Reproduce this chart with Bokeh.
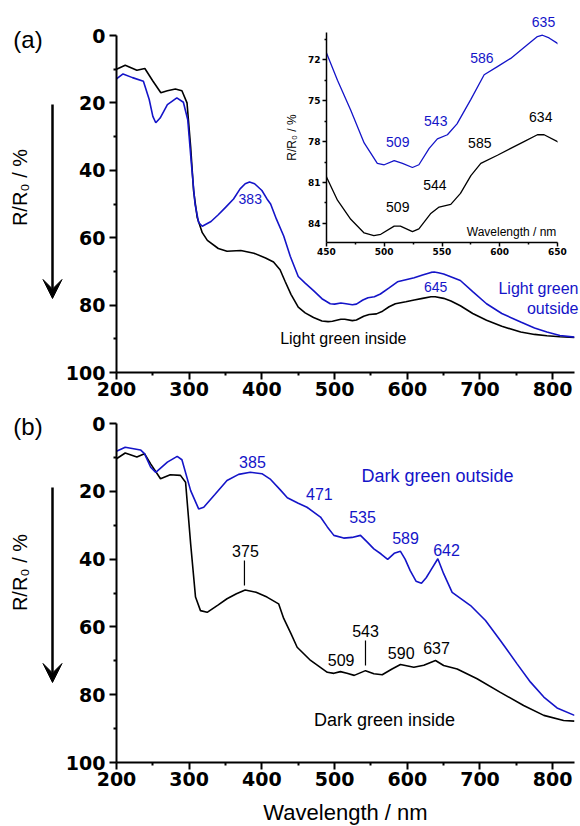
import math
from bokeh.plotting import figure
from bokeh.models import Range1d, FixedTicker, Label, Arrow, VeeHead, GridBox
from bokeh.embed import file_html
from bokeh.resources import INLINE

BLUE = "#1414c8"
BLACK = "#000000"

# ---------------- data ----------------
# Panel (a) - Light green inside (black)
wl_a_in = [200, 212, 228, 239, 250, 261, 270, 281, 290, 297, 302, 306, 311, 318, 325, 340, 352, 371, 389,
           405, 416, 425, 432, 440, 450, 459.5, 471, 482.6, 491, 497, 508.6, 514, 524.4, 530, 540, 547.5,
           557.6, 566, 575, 583.6, 598, 609.5, 621, 632.6, 638.4, 650, 660, 673, 690, 709, 730, 756, 775,
           792, 810, 830]
r_a_in = [10.0, 8.8, 10.3, 9.8, 13.5, 17.0, 16.4, 15.9, 16.4, 20.0, 33.0, 46.0, 54.0, 58.5, 60.8, 63.2, 64.0,
          63.8, 64.6, 66.0, 67.2, 69.5, 73.0, 76.8, 80.6, 82.3, 83.7, 84.7, 84.9, 84.8, 84.2, 84.2, 84.6, 84.4,
          83.3, 82.8, 82.6, 81.8, 80.5, 79.6, 79.0, 78.5, 78.0, 77.5, 77.5, 78.0, 78.8, 80.2, 82.5, 84.5,
          86.3, 88.0, 88.7, 89.1, 89.4, 89.6]

# Panel (a) - Light green outside (blue)
wl_a_out = [200, 209, 222, 237, 245, 250, 254, 260, 270, 283, 292, 298, 303, 308, 313, 318, 330, 340, 350,
            361, 370, 377, 383, 390, 400, 407, 412, 420, 430, 439, 450, 459.5, 471, 482.6, 494, 500, 508.6,
            515.8, 524.4, 530, 538.9, 546, 554.7, 563, 575, 586.5, 598, 609.5, 621, 632.6, 637, 642.7, 650,
            673, 690, 709, 730, 756, 775, 792, 810, 830]
r_a_out = [12.9, 11.4, 12.5, 13.6, 19.0, 24.0, 25.9, 24.5, 20.5, 18.5, 19.8, 25.0, 38.0, 50.0, 55.5, 56.6,
           55.2, 53.2, 51.0, 48.5, 45.5, 44.0, 43.5, 44.0, 46.0, 48.5, 50.0, 54.5, 59.5, 65.5, 71.5, 73.5,
           75.7, 78.1, 79.6, 79.7, 79.4, 79.6, 79.9, 79.7, 78.5, 77.8, 77.5, 76.7, 74.9, 73.1, 72.5, 71.9,
           71.1, 70.3, 70.2, 70.4, 70.8, 72.7, 76.0, 79.6, 82.5, 85.0, 86.8, 88.0, 89.0, 89.5]

# Panel (b) - Dark green inside (black)
wl_b_in = [200, 212, 228, 238.5, 247, 260.5, 274, 288, 295, 302, 308.7, 315.5, 324.7, 340, 352, 365, 377,
           392, 407, 423, 430, 440, 448.5, 467, 490, 499, 508, 517, 527, 542.5, 554, 565.5, 579, 590.6, 609,
           622.7, 638.8, 650, 668.6, 696, 728, 760, 787.8, 815, 830]
r_b_in = [10.4, 8.7, 9.9, 8.9, 11.9, 16.3, 15.1, 15.3, 17.3, 35.5, 51.2, 55.2, 55.7, 53.5, 51.7, 50.2, 49.1,
          49.8, 51.2, 53.2, 57.5, 62.0, 66.0, 69.9, 73.4, 73.7, 73.2, 73.7, 74.3, 72.9, 73.8, 74.1, 72.4,
          71.1, 71.9, 71.3, 69.9, 71.4, 72.4, 75.3, 79.3, 83.2, 86.1, 87.6, 87.8]

# Panel (b) - Dark green outside (blue)
wl_b_out = [200, 212, 233, 238.5, 247, 254, 270, 283.5, 290, 302, 313, 320, 335, 352, 368, 384, 400, 412,
            425, 435, 450, 462, 480.6, 490, 499, 512.5, 524, 535.6, 545, 554, 564, 573, 582, 590.6, 597, 604,
            612, 619.5, 626, 632, 642, 650, 661.7, 687, 707.6, 728, 751, 769.5, 787.8, 806, 830]
r_b_out = [8.2, 7.0, 7.8, 8.9, 12.9, 14.4, 11.4, 9.7, 10.7, 19.8, 25.2, 24.7, 21.0, 16.8, 15.0, 14.4, 14.8,
           16.5, 19.5, 21.9, 23.5, 24.7, 27.6, 30.5, 33.0, 33.8, 33.6, 33.0, 35.0, 37.0, 38.5, 40.1, 38.3,
           37.7, 40.0, 43.4, 46.5, 47.1, 45.5, 43.4, 39.9, 44.3, 49.8, 53.7, 58.1, 64.0, 70.9, 76.3, 80.7,
           83.9, 86.1]

# ticks
x_ticks = [200, 300, 400, 500, 600, 700, 800]
x_minor = [250, 350, 450, 550, 650, 750]
y_ticks = [0, 20, 40, 60, 80, 100]
y_minor = [10, 30, 50, 70, 90]
ix_ticks = [450, 500, 550, 600, 650]
ix_minor = [475, 525, 575, 625]
iy_ticks = [72, 75, 78, 81, 84]
iy_minor = [70.5, 73.5, 76.5, 79.5, 82.5]

# peak labels: (text, x, y) in data units of their panel
peaks_a_out = [("383", 384, 48.6), ("645", 639, 74.5)]
peaks_inset_out = [("586", 584.5, 71.9), ("543", 544.6, 76.5), ("509", 511.7, 78.05)]
peaks_inset_in = [("634", 635.5, 76.2), ("585", 582.7, 78.1), ("544", 543.8, 81.2), ("509", 511.7, 82.8)]
peaks_b_out = [("385", 387, 11.5), ("471", 479, 20.9), ("535", 538.4, 27.7), ("589", 597.5, 33.9), ("642", 654, 37.2)]
peaks_b_in = [("375", 377.4, 37.5), ("509", 509, 69.7), ("543", 542.5, 61.1), ("590", 591.6, 67.6), ("637", 640.2, 66.3)]
leaders_b = {"x0": [376, 542.5], "y0": [40.4, 64.0], "x1": [376, 542.5], "y1": [47.8, 71.4]}

TXT_FONT = "Liberation Sans"
TICK_FONT = "DejaVu Sans"


def style_axes(p, xt, xm, yt, ym, size, tout, mout, lw, sx, sy):
    p.xaxis.ticker = FixedTicker(ticks=xt, minor_ticks=xm)
    p.yaxis.ticker = FixedTicker(ticks=yt, minor_ticks=ym)
    for ax in (p.xaxis[0], p.yaxis[0]):
        ax.axis_line_width = lw
        ax.axis_line_color = "black"
        ax.major_tick_line_width = lw
        ax.minor_tick_line_width = lw
        ax.major_tick_line_color = "black"
        ax.minor_tick_line_color = "black"
        ax.major_tick_out = tout
        ax.major_tick_in = 0
        ax.minor_tick_out = mout
        ax.minor_tick_in = 0
        ax.major_label_text_font = TICK_FONT
        ax.major_label_text_font_style = "bold"
        ax.major_label_text_font_size = size
        ax.major_label_text_color = "black"
    p.xaxis[0].major_label_standoff = sx
    p.yaxis[0].major_label_standoff = sy


def lab(p, text, x, y, color, size, align="center", angle=0):
    p.add_layout(Label(x=x, y=y, text=text, text_color=color, text_font=TXT_FONT,
                       text_font_size=size, text_align=align, text_baseline="middle", angle=angle))


def main_fig(h, top, bottom):
    p = figure(width=580, height=h, x_range=Range1d(200, 830), y_range=Range1d(100, 0),
               output_backend="svg", toolbar_location=None, frame_align=False,
               min_border_left=116, min_border_right=6, min_border_top=top, min_border_bottom=bottom)
    p.outline_line_color = None
    p.grid.visible = False
    style_axes(p, x_ticks, x_minor, y_ticks, y_minor, "19px", 7, 3, 2, 2, 4)
    return p


# ---------------- panel (a) ----------------
pa = main_fig(408, 35, 36)
pa.line(wl_a_in, r_a_in, line_color=BLACK, line_width=1.6)
pa.line(wl_a_out, r_a_out, line_color=BLUE, line_width=1.6)
for t, x, y in peaks_a_out:
    lab(pa, t, x, y, BLUE, "14px")
lab(pa, "Light green inside", 512, 89.9, BLACK, "16px")

# ---------------- inset ----------------
pin = figure(width=310, height=262, x_range=Range1d(450, 650), y_range=Range1d(85.4, 70),
             output_backend="svg", toolbar_location=None, frame_align=False,
             min_border_left=56, min_border_right=23, min_border_top=32, min_border_bottom=20)
pin.outline_line_color = None
pin.grid.visible = False
pin.background_fill_color = None
pin.border_fill_color = None
style_axes(pin, ix_ticks, ix_minor, iy_ticks, iy_minor, "9px", 4, 2, 1.5, 1, 2)
pin.yaxis[0].axis_label = "R/R\u2080 / %"
pin.yaxis[0].axis_label_text_font = TXT_FONT
pin.yaxis[0].axis_label_text_font_style = "normal"
pin.yaxis[0].axis_label_text_font_size = "12px"
pin.yaxis[0].axis_label_text_color = "black"
pin.yaxis[0].axis_label_standoff = 6
pin.line(wl_a_in, r_a_in, line_color=BLACK, line_width=1.3)
pin.line(wl_a_out, r_a_out, line_color=BLUE, line_width=1.3)
for t, x, y in peaks_inset_out:
    lab(pin, t, x, y, BLUE, "14px")
for t, x, y in peaks_inset_in:
    lab(pin, t, x, y, BLACK, "14px")
lab(pin, "Wavelength / nm", 649, 84.6, BLACK, "12px", "right")

# ---------------- panel (b) ----------------
pb = main_fig(418, 15, 64)
pb.line(wl_b_in, r_b_in, line_color=BLACK, line_width=1.6)
pb.line(wl_b_out, r_b_out, line_color=BLUE, line_width=1.6)
for t, x, y in peaks_b_out:
    lab(pb, t, x, y, BLUE, "16px")
for t, x, y in peaks_b_in:
    lab(pb, t, x, y, BLACK, "16px")
pb.segment(x0=leaders_b["x0"], y0=leaders_b["y0"], x1=leaders_b["x1"], y1=leaders_b["y1"],
           line_color="black", line_width=1.2)
lab(pb, "Dark green outside", 641.5, 15.5, BLUE, "18px")
lab(pb, "Dark green inside", 568.6, 87.6, BLACK, "18px")

# ---------------- transparent overlay (page pixels) for texts in the margins ----------------
ov = figure(width=580, height=826, x_range=Range1d(0, 580), y_range=Range1d(826, 0),
            output_backend="svg", toolbar_location=None, x_axis_location=None, y_axis_location=None,
            frame_align=False,
            min_border_left=0, min_border_right=0, min_border_top=0, min_border_bottom=0)
ov.outline_line_color = None
ov.grid.visible = False
ov.background_fill_color = None
ov.border_fill_color = None
lab(ov, "(a)", 27.5, 39, BLACK, "24px")
lab(ov, "(b)", 27.5, 426, BLACK, "24px")
lab(ov, "R/R\u2080 / %", 19, 187, BLACK, "20px", angle=math.pi / 2)
lab(ov, "R/R\u2080 / %", 19.5, 572, BLACK, "20px", angle=math.pi / 2)
lab(ov, "Light green", 578, 288, BLUE, "16px", "right")
lab(ov, "outside", 578, 308, BLUE, "16px", "right")
lab(ov, "635", 543, 21, BLUE, "14px")
lab(ov, "Wavelength / nm", 345, 812, BLACK, "22px")
for y0, y1 in ((104, 298), (487, 682)):
    ov.add_layout(Arrow(end=VeeHead(size=19, fill_color="black", line_color="black", line_width=1),
                        x_start=52, y_start=y0, x_end=52, y_end=y1,
                        line_color="black", line_width=2.5))

grid = GridBox(children=[(pa, 0, 0, 2, 2), (pin, 0, 1, 1, 1), (pb, 2, 0, 1, 2), (ov, 0, 0, 3, 2)],
               rows=["262px", "146px", "418px"], cols=["270px", "310px"], spacing=0)

open("out.html", "w").write(file_html(grid, INLINE))
